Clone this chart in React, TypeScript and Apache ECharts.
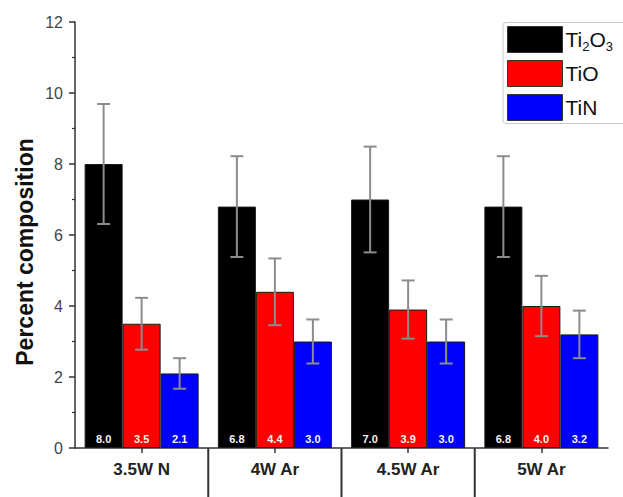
import React, { useEffect, useRef } from "react";
import * as echarts from "echarts";

const categories = ["3.5W N", "4W Ar", "4.5W Ar", "5W Ar"];
const ti2o3 = [8.0, 6.8, 7.0, 6.8];
const tio = [3.5, 4.4, 3.9, 4.0];
const tin = [2.1, 3.0, 3.0, 3.2];
const ti2o3Err = [1.69, 1.42, 1.49, 1.42];
const tioErr = [0.73, 0.94, 0.82, 0.85];
const tinErr = [0.43, 0.62, 0.62, 0.67];
const yTicks = [0, 2, 4, 6, 8, 10, 12];
const yTitle = "Percent composition";

const FONT = 'Arial, "Liberation Sans", Helvetica, sans-serif';
const BAR_W = 38;

const species = [
  { name: "Ti2O3", values: ti2o3, err: ti2o3Err, color: "#000000" },
  { name: "TiO", values: tio, err: tioErr, color: "#ff0000" },
  { name: "TiN", values: tin, err: tinErr, color: "#0000ff" },
];

export default function App() {
  const ref = useRef<HTMLDivElement>(null);

  useEffect(() => {
    if (!ref.current) return;
    const chart = echarts.init(ref.current, null, { renderer: "svg" });

    const barSeries = species.map((s) => ({
      name: s.name,
      type: "bar",
      data: s.values,
      barWidth: BAR_W,
      barGap: "0%",
      itemStyle: { color: s.color, borderColor: "#1a1a1a", borderWidth: 1 },
      label: {
        show: true,
        position: "insideBottom",
        distance: 4,
        color: "#f4f4f4",
        fontSize: 11,
        fontWeight: "bold",
        fontFamily: FONT,
        formatter: (p: any) => Number(p.value).toFixed(1),
      },
      z: 2,
    }));

    // Error bars: vertical whisker with caps, shifted to each bar's slot
    const errSeries = species.map((s, si) => ({
      name: s.name + " err",
      type: "custom",
      z: 5,
      silent: true,
      data: s.values.map((v, i) => [i, v - s.err[i], v + s.err[i]]),
      encode: { x: 0, y: [1, 2] },
      renderItem: (params: any, api: any) => {
        const lo = api.coord([api.value(0), api.value(1)]);
        const hi = api.coord([api.value(0), api.value(2)]);
        const x = lo[0] + (si - 1) * BAR_W;
        const cap = 6.5;
        const style = { stroke: "#8c8c8c", lineWidth: 2 };
        return {
          type: "group",
          children: [
            { type: "line", shape: { x1: x, y1: lo[1], x2: x, y2: hi[1] }, style },
            { type: "line", shape: { x1: x - cap, y1: hi[1], x2: x + cap, y2: hi[1] }, style },
            { type: "line", shape: { x1: x - cap, y1: lo[1], x2: x + cap, y2: lo[1] }, style },
          ],
        };
      },
    }));

    // Separators between category groups, below the axis
    const sepSeries = {
      name: "separators",
      type: "custom",
      silent: true,
      clip: false,
      z: 1,
      data: categories.slice(1).map((_, k) => [k + 1, 0]),
      encode: { x: 0, y: 1 },
      renderItem: (params: any, api: any) => {
        const p = api.coord([api.value(0), 0]);
        const band = api.size([1, 0])[0];
        const x = p[0] - band / 2;
        return {
          type: "line",
          shape: { x1: x, y1: p[1], x2: x, y2: p[1] + 60 },
          style: { stroke: "#333333", lineWidth: 2 },
        };
      },
    };

    chart.setOption({
      animation: false,
      backgroundColor: "#ffffff",
      grid: { left: 75, right: 15, top: 22, bottom: 49, containLabel: false },
      graphic: [
        {
          type: "text",
          x: 25,
          y: 252,
          rotation: Math.PI / 2,
          style: {
            text: yTitle,
            fontFamily: FONT,
            fontSize: 23,
            fontWeight: "bold",
            fill: "#111111",
            align: "center",
            verticalAlign: "middle",
          },
        },
        {
          // legend frame, running off the right edge of the page
          type: "rect",
          shape: { x: 503, y: 22.5, width: 140, height: 101, r: 3 },
          style: { fill: "none", stroke: "#c8c8c8", lineWidth: 1 },
          z: 0,
        },
      ],
      legend: {
        orient: "vertical",
        left: 503,
        top: 22,
        icon: "rect",
        data: species.map((s) => s.name),
        itemWidth: 55,
        itemHeight: 26,
        itemGap: 7,
        padding: [4, 4, 4, 4],
        borderWidth: 0,
        itemStyle: { borderColor: "#333333", borderWidth: 1 },
        formatter: (name: string) =>
          name === "Ti2O3" ? "{n|Ti}{s|2}{n|O}{s|3}" : "{n|" + name + "}",
        textStyle: {
          fontFamily: FONT,
          color: "#111111",
          padding: [0, 0, 0, -2],
          rich: {
            n: { fontSize: 21, fontFamily: FONT, color: "#111111" },
            s: { fontSize: 13, fontFamily: FONT, color: "#111111", padding: [14, 0, 0, 0] },
          },
        },
      },
      xAxis: {
        type: "category",
        data: categories,
        axisLine: { lineStyle: { color: "#333333", width: 1.5 } },
        axisTick: { show: true, alignWithLabel: true, length: 5, lineStyle: { color: "#333333", width: 1.5 } },
        axisLabel: {
          fontFamily: FONT,
          fontSize: 17,
          fontWeight: "bold",
          color: "#222222",
          margin: 13,
        },
        splitLine: { show: false },
      },
      yAxis: {
        type: "value",
        min: yTicks[0],
        max: yTicks[yTicks.length - 1],
        interval: 2,
        axisLine: { show: true, lineStyle: { color: "#333333", width: 1.5 } },
        axisTick: { show: true, length: 6, lineStyle: { color: "#333333", width: 1.5 } },
        minorTick: { show: true, splitNumber: 2, length: 3, lineStyle: { color: "#333333", width: 1.2 } },
        axisLabel: { fontFamily: FONT, fontSize: 16, color: "#444444", margin: 12 },
        splitLine: { show: false },
      },
      series: [...barSeries, ...errSeries, sepSeries],
    });

    return () => chart.dispose();
  }, []);

  return (
    <div
      ref={ref}
      style={{ position: "fixed", left: 0, top: 0, width: 623, height: 497 }}
    />
  );
}
